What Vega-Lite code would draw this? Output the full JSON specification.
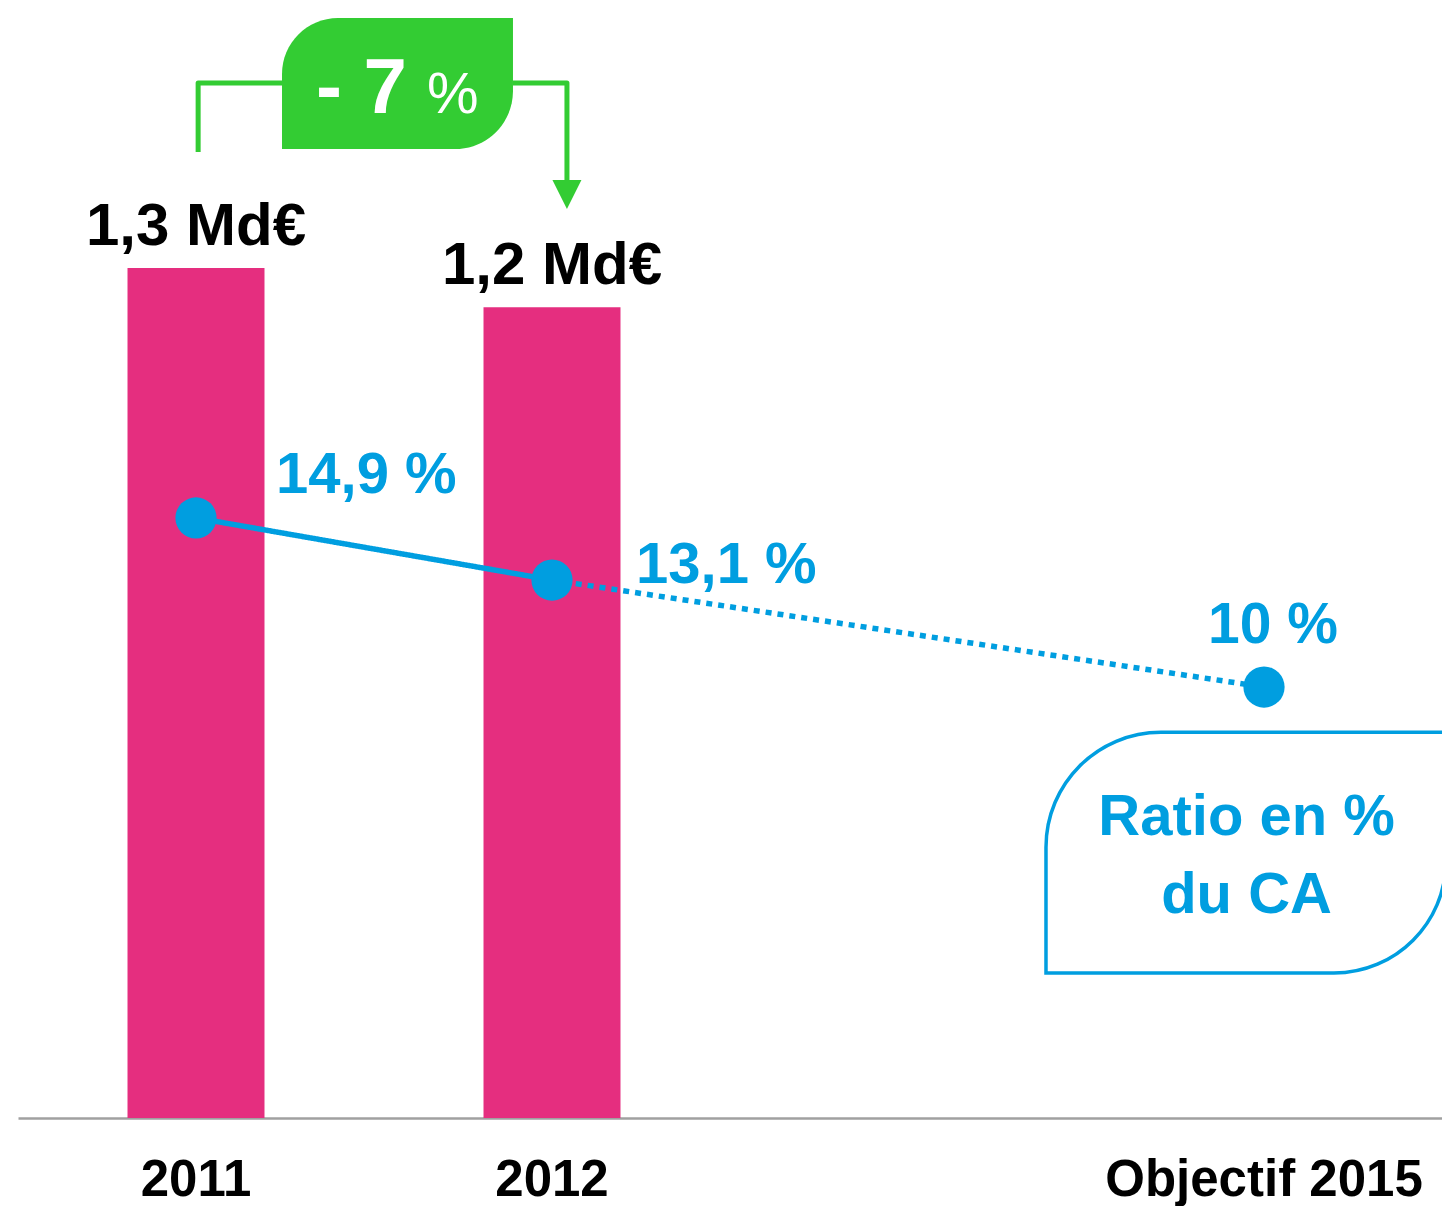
{
  "$schema": "https://vega.github.io/schema/vega-lite/v6.json",
  "width": 1424,
  "height": 1118,
  "autosize": {"type": "none"},
  "padding": {"left": 18, "top": 0, "right": 0, "bottom": 88},
  "background": "#ffffff",
  "config": {"view": {"stroke": null}, "font": "Liberation Sans"},
  "datasets": {
    "depenses": [
      {"annee": "2011", "montant": 1.3, "etiquette": "1,3 Md€"},
      {"annee": "2012", "montant": 1.24, "etiquette": "1,2 Md€"}
    ],
    "ratio": [
      {"annee": "2011", "ratio": 14.9, "etiquette": "14,9 %"},
      {"annee": "2012", "ratio": 13.1, "etiquette": "13,1 %"},
      {"annee": "Objectif 2015", "ratio": 10, "etiquette": "10 %"}
    ],
    "trajectoire": [
      {"annee": "2011", "ratio": 14.9, "segment": "réalisé"},
      {"annee": "2012", "ratio": 13.1, "segment": "réalisé"},
      {"annee": "2012", "ratio": 13.1, "segment": "objectif"},
      {"annee": "Objectif 2015", "ratio": 10, "segment": "objectif"}
    ],
    "crochet": [
      {"trait": "gauche", "ordre": 1, "gx": 0.006, "gy": 1.4775},
      {"trait": "gauche", "ordre": 2, "gx": 0.006, "gy": 1.583},
      {"trait": "gauche", "ordre": 3, "gx": 0.2416, "gy": 1.583},
      {"trait": "droite", "ordre": 1, "gx": 0.8904, "gy": 1.583},
      {"trait": "droite", "ordre": 2, "gx": 1.042, "gy": 1.583},
      {"trait": "droite", "ordre": 3, "gx": 1.042, "gy": 1.4347}
    ]
  },
  "layer": [
    {
      "encoding": {
        "x": {
          "field": "annee",
          "type": "nominal",
          "sort": null,
          "scale": {"domain": ["2011", "2012", "_", "Objectif 2015"], "paddingInner": 0.6152, "paddingOuter": 0.3076},
          "axis": {
            "title": null,
            "labelExpr": "datum.value == '_' ? '' : datum.value",
            "labelFont": "Liberation Sans",
            "labelFontSize": 51,
            "labelFontWeight": "bold",
            "labelColor": "#000000",
            "labelBaseline": "alphabetic",
            "labelPadding": 77,
            "labelAngle": 0,
            "labelLimit": 0,
            "labelOverlap": false,
            "labelBound": false,
            "ticks": false,
            "tickSize": 0,
            "grid": false,
            "domainColor": "#A0A0A0",
            "domainWidth": 2.5
          }
        }
      },
      "layer": [
        {
          "data": {"name": "depenses"},
          "encoding": {
            "y": {"field": "montant", "type": "quantitative", "scale": {"domain": [0, 1.71], "nice": false}, "axis": null}
          },
          "layer": [
            {"mark": {"type": "bar", "color": "#E52E7F"}},
            {
              "mark": {"type": "text", "font": "Liberation Sans", "fontSize": 60, "fontWeight": "bold", "color": "#000000", "align": "center", "baseline": "alphabetic", "dy": -23},
              "encoding": {"text": {"field": "etiquette"}}
            }
          ]
        },
        {
          "encoding": {
            "y": {"field": "ratio", "type": "quantitative", "scale": {"domain": [-2.49, 29.91], "zero": false, "nice": false}, "axis": null}
          },
          "layer": [
            {
              "data": {"name": "trajectoire"},
              "mark": {"type": "line", "color": "#009EE0", "strokeWidth": 5.5, "strokeCap": "butt"},
              "encoding": {
                "strokeDash": {"field": "segment", "type": "nominal", "scale": {"domain": ["réalisé", "objectif"], "range": [[1, 0], [6, 6]]}, "legend": null}
              }
            },
            {
              "data": {"name": "ratio"},
              "mark": {"type": "point", "shape": "circle", "filled": true, "opacity": 1, "size": 1700, "color": "#009EE0", "strokeWidth": 0}
            },
            {
              "data": {"name": "ratio"},
              "transform": [{"filter": "datum.annee == '2011'"}],
              "mark": {"type": "text", "font": "Liberation Sans", "fontSize": 58, "fontWeight": "bold", "color": "#009EE0", "align": "left", "baseline": "alphabetic", "dx": 80, "dy": -25},
              "encoding": {"text": {"field": "etiquette"}}
            },
            {
              "data": {"name": "ratio"},
              "transform": [{"filter": "datum.annee == '2012'"}],
              "mark": {"type": "text", "font": "Liberation Sans", "fontSize": 58, "fontWeight": "bold", "color": "#009EE0", "align": "left", "baseline": "alphabetic", "dx": 84, "dy": 3},
              "encoding": {"text": {"field": "etiquette"}}
            },
            {
              "data": {"name": "ratio"},
              "transform": [{"filter": "datum.annee == 'Objectif 2015'"}],
              "mark": {"type": "text", "font": "Liberation Sans", "fontSize": 57, "fontWeight": "bold", "color": "#009EE0", "align": "center", "baseline": "alphabetic", "dx": 9, "dy": -44},
              "encoding": {"text": {"field": "etiquette"}}
            }
          ],
          "resolve": {"scale": {"y": "shared"}}
        }
      ],
      "resolve": {"scale": {"y": "independent"}}
    },
    {
      "layer": [
        {
          "data": {"values": [{"de": 0.2416, "a": 0.8904, "bas": 1.482, "haut": 1.6825}]},
          "mark": {"type": "rect", "color": "#33CC33", "cornerRadiusTopLeft": 56, "cornerRadiusBottomRight": 58},
          "encoding": {
            "x": {"field": "de", "type": "quantitative", "scale": {"domain": [-0.5, 3.5], "nice": false, "zero": false}, "axis": null},
            "x2": {"field": "a"},
            "y": {"field": "bas", "type": "quantitative", "scale": {"domain": [0, 1.71], "nice": false}, "axis": null},
            "y2": {"field": "haut"}
          }
        },
        {
          "data": {"name": "crochet"},
          "mark": {"type": "line", "color": "#33CC33", "strokeWidth": 5, "strokeJoin": "round", "strokeCap": "butt"},
          "encoding": {
            "x": {"field": "gx", "type": "quantitative", "scale": {"domain": [-0.5, 3.5], "nice": false, "zero": false}, "axis": null},
            "y": {"field": "gy", "type": "quantitative", "scale": {"domain": [0, 1.71], "nice": false}, "axis": null},
            "detail": {"field": "trait"},
            "order": {"field": "ordre", "type": "quantitative"}
          }
        },
        {
          "data": {"values": [{"gx": 1.042, "gy": 1.4125}]},
          "mark": {"type": "point", "shape": "M-1,-1L1,-1L0,1Z", "filled": true, "opacity": 1, "size": 841, "color": "#33CC33", "strokeWidth": 0},
          "encoding": {
            "x": {"field": "gx", "type": "quantitative", "scale": {"domain": [-0.5, 3.5], "nice": false, "zero": false}, "axis": null},
            "y": {"field": "gy", "type": "quantitative", "scale": {"domain": [0, 1.71], "nice": false}, "axis": null}
          }
        },
        {
          "data": {"values": [{"texte": "- 7", "gx": 0.5927, "gy": 1.537}]},
          "mark": {"type": "text", "font": "Liberation Sans", "fontSize": 78, "fontWeight": "bold", "color": "#ffffff", "align": "right", "baseline": "alphabetic"},
          "encoding": {
            "x": {"field": "gx", "type": "quantitative", "scale": {"domain": [-0.5, 3.5], "nice": false, "zero": false}, "axis": null},
            "y": {"field": "gy", "type": "quantitative", "scale": {"domain": [0, 1.71], "nice": false}, "axis": null},
            "text": {"field": "texte"}
          }
        },
        {
          "data": {"values": [{"texte": "%", "gx": 0.6489, "gy": 1.537}]},
          "mark": {"type": "text", "font": "Liberation Sans", "fontSize": 58, "fontWeight": "normal", "color": "#ffffff", "align": "left", "baseline": "alphabetic"},
          "encoding": {
            "x": {"field": "gx", "type": "quantitative", "scale": {"domain": [-0.5, 3.5], "nice": false, "zero": false}, "axis": null},
            "y": {"field": "gy", "type": "quantitative", "scale": {"domain": [0, 1.71], "nice": false}, "axis": null},
            "text": {"field": "texte"}
          }
        },
        {
          "data": {"values": [{"de": 2.3876, "a": 3.511, "bas": 0.2218, "haut": 0.59}]},
          "mark": {"type": "rect", "fill": "#ffffff", "stroke": "#009EE0", "strokeWidth": 3.5, "cornerRadiusTopLeft": 115, "cornerRadiusBottomRight": 112},
          "encoding": {
            "x": {"field": "de", "type": "quantitative", "scale": {"domain": [-0.5, 3.5], "nice": false, "zero": false}, "axis": null},
            "x2": {"field": "a"},
            "y": {"field": "bas", "type": "quantitative", "scale": {"domain": [0, 1.71], "nice": false}, "axis": null},
            "y2": {"field": "haut"}
          }
        },
        {
          "data": {"values": [{"texte": "Ratio en %", "gx": 2.951, "gy": 0.4329}, {"texte": "du CA", "gx": 2.951, "gy": 0.3135}]},
          "mark": {"type": "text", "font": "Liberation Sans", "fontSize": 58, "fontWeight": "bold", "color": "#009EE0", "align": "center", "baseline": "alphabetic"},
          "encoding": {
            "x": {"field": "gx", "type": "quantitative", "scale": {"domain": [-0.5, 3.5], "nice": false, "zero": false}, "axis": null},
            "y": {"field": "gy", "type": "quantitative", "scale": {"domain": [0, 1.71], "nice": false}, "axis": null},
            "text": {"field": "texte"}
          }
        }
      ]
    }
  ],
  "resolve": {"scale": {"x": "independent", "y": "independent"}}
}
